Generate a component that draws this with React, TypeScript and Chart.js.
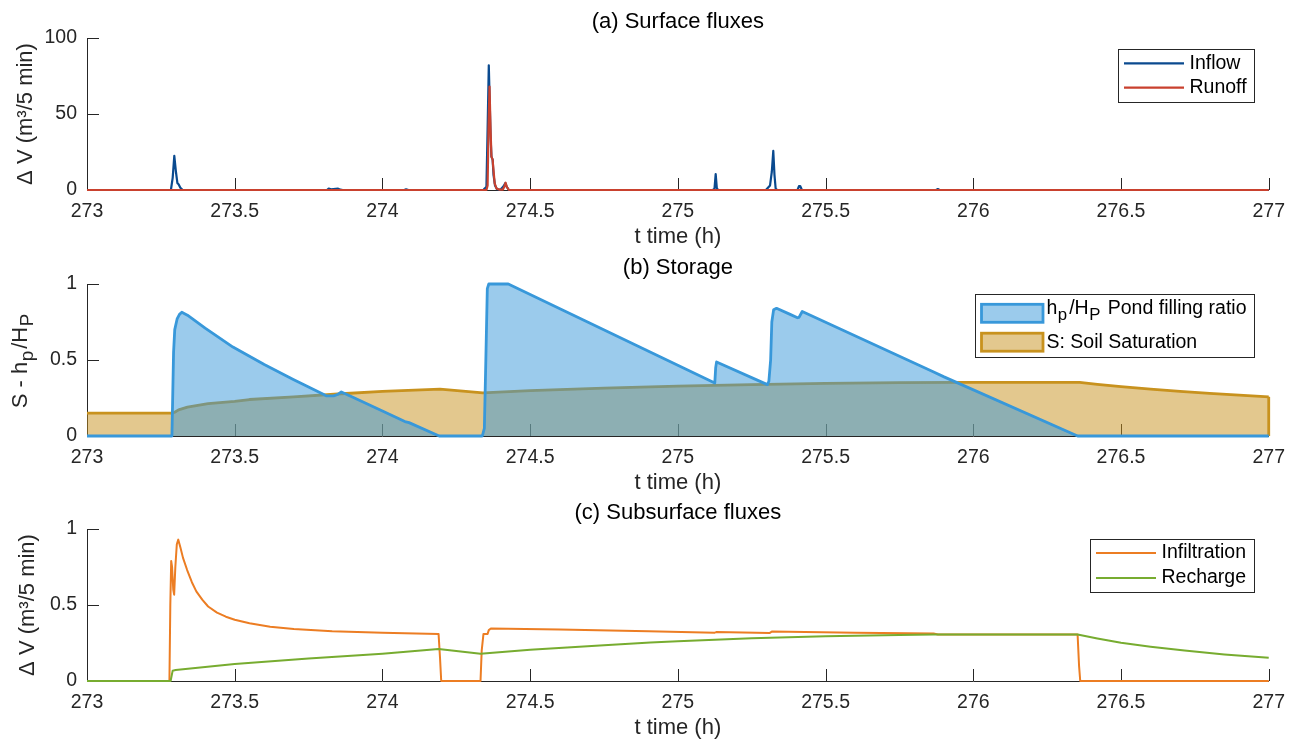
import React, { useEffect, useRef } from 'react';
import { Chart, registerables } from 'chart.js';

Chart.register(...registerables);

const FONT = '"Liberation Sans", Arial, Helvetica, sans-serif';
const AXIS = '#262626';
const TICK_SIZE = 19.5;
const LABEL_SIZE = 22;
const LEGEND_SIZE = 19.5;
const TICK_LEN = 12;
const SUB_SCALE = 0.86;
const SUB_GAP = 2.5;

Chart.defaults.font.family = FONT;
Chart.defaults.color = AXIS;

// ---------- shared x axis ----------
const xTicks = [273, 273.5, 274, 274.5, 275, 275.5, 276, 276.5, 277];
const xTickLabels = ['273', '273.5', '274', '274.5', '275', '275.5', '276', '276.5', '277'];
const xAxisLabel = 't time (h)';

// ---------- panel (a) ----------
const titleA = '(a) Surface fluxes';
const yTicksA = [0, 50, 100];
const yTickLabelsA = ['0', '50', '100'];
const yLabelA = 'Δ V (m³/5 min)';
const namesA = ['Inflow', 'Runoff'];
const inflowT = [273, 273.284, 273.29, 273.2955, 273.301, 273.306, 273.31, 273.316, 273.324, 273.812, 273.818, 273.826, 273.834, 273.85, 273.858, 273.866, 274.074, 274.08, 274.088, 274.342, 274.346, 274.352, 274.356, 274.36, 274.3635, 274.366, 274.369, 274.373, 274.376, 274.381, 274.388, 274.4, 274.41, 274.416, 274.421, 274.428, 275.118, 275.124, 275.128, 275.132, 275.137, 275.298, 275.305, 275.312, 275.318, 275.323, 275.327, 275.331, 275.336, 275.405, 275.41, 275.414, 275.42, 275.874, 275.88, 275.886, 277];
const inflowV = [0, 0, 8, 22.4, 12, 4.5, 3.8, 1.5, 0, 0, 0.9, 0.4, 0.6, 0.9, 0.2, 0, 0, 0.5, 0, 0, 1, 2, 40, 82, 55, 35, 22, 20, 10, 3, 0.5, 0.3, 2.5, 4.5, 2, 0, 0, 1, 10.5, 1, 0, 0, 1.5, 3, 12, 25.7, 10, 1, 0, 0, 2.5, 2.6, 0, 0, 0.6, 0, 0];
const runoffT = [273, 274.352, 274.356, 274.359, 274.3625, 274.366, 274.369, 274.373, 274.375, 274.38, 274.386, 274.395, 274.408, 274.413, 274.417, 274.421, 274.428, 277];
const runoffV = [0, 0, 3, 40, 68, 40, 22, 20, 15, 4.4, 1, 0.3, 0.3, 2.5, 4.8, 2, 0, 0];

// ---------- panel (b) ----------
const titleB = '(b) Storage';
const yTicksB = [0, 0.5, 1];
const yTickLabelsB = ['0', '0.5', '1'];
type Seg = { t: string; sub?: boolean };
const yLabelB: Seg[] = [{ t: 'S - h' }, { t: 'p', sub: true }, { t: '/H' }, { t: 'P', sub: true }];
const namesB: Seg[][] = [
  [{ t: 'h' }, { t: 'p', sub: true }, { t: '/H' }, { t: 'P', sub: true }, { t: ' Pond filling ratio' }],
  [{ t: 'S: Soil Saturation' }],
];
const pondT = [273, 273.2875, 273.29, 273.293, 273.297, 273.305, 273.313, 273.321, 273.34, 273.4, 273.494, 273.6, 273.7, 273.8, 273.81, 273.835, 273.85, 273.861, 273.9, 274.0, 274.076, 274.09, 274.192, 274.338, 274.345, 274.35, 274.355, 274.36, 274.426, 275.125, 275.128, 275.131, 275.303, 275.308, 275.314, 275.318, 275.324, 275.334, 275.38, 275.405, 275.41, 275.421, 275.866, 275.901, 276.353, 277];
const pondV = [0, 0, 0.25, 0.55, 0.7, 0.77, 0.8, 0.814, 0.795, 0.71, 0.585, 0.47, 0.37, 0.275, 0.264, 0.264, 0.275, 0.29, 0.255, 0.165, 0.095, 0.088, 0, 0, 0.05, 0.5, 0.97, 1, 1, 0.349, 0.45, 0.487, 0.338, 0.36, 0.5, 0.75, 0.83, 0.84, 0.8, 0.778, 0.78, 0.819, 0.421, 0.389, 0, 0];
const soilT = [273, 273.2875, 273.297, 273.31, 273.34, 273.41, 273.5, 273.55, 273.7, 273.861, 274.0, 274.195, 274.34, 274.5, 274.75, 275, 275.25, 275.5, 275.75, 275.95, 276.36, 276.42, 276.5, 276.6, 276.7, 276.8, 276.9, 277];
const soilV = [0.15, 0.15, 0.156, 0.172, 0.19, 0.213, 0.228, 0.24, 0.258, 0.278, 0.293, 0.308, 0.284, 0.298, 0.315, 0.328, 0.338, 0.346, 0.351, 0.353, 0.353, 0.34, 0.325, 0.308, 0.294, 0.281, 0.269, 0.258];

// ---------- panel (c) ----------
const titleC = '(c) Subsurface fluxes';
const yTicksC = [0, 0.5, 1];
const yTickLabelsC = ['0', '0.5', '1'];
const yLabelC = 'Δ V (m³/5 min)';
const namesC = ['Infiltration', 'Recharge'];
const infilT = [273, 273.279, 273.282, 273.285, 273.288, 273.292, 273.295, 273.299, 273.304, 273.309, 273.316, 273.325, 273.339, 273.355, 273.37, 273.39, 273.41, 273.44, 273.47, 273.5, 273.55, 273.62, 273.7, 273.83, 274.0, 274.19, 274.195, 274.199, 274.332, 274.336, 274.342, 274.356, 274.36, 274.367, 274.6, 274.9, 275.125, 275.13, 275.31, 275.318, 275.6, 275.866, 275.88, 276.353, 276.358, 276.362, 277];
const infilV = [0, 0, 0.5, 0.79, 0.75, 0.6, 0.568, 0.75, 0.9, 0.93, 0.88, 0.81, 0.73, 0.65, 0.59, 0.535, 0.49, 0.45, 0.423, 0.403, 0.38, 0.357, 0.342, 0.328, 0.318, 0.31, 0.15, 0, 0, 0.2, 0.31, 0.31, 0.335, 0.345, 0.338, 0.327, 0.318, 0.322, 0.315, 0.325, 0.318, 0.312, 0.306, 0.306, 0.1, 0, 0];
const rechT = [273, 273.283, 273.29, 273.3, 273.5, 273.75, 274.0, 274.19, 274.332, 274.5, 274.75, 274.907, 275.0, 275.25, 275.5, 275.75, 275.866, 276.353, 276.42, 276.5, 276.6, 276.715, 276.85, 277];
const rechV = [0, 0, 0.068, 0.072, 0.112, 0.148, 0.18, 0.21, 0.18, 0.205, 0.235, 0.253, 0.262, 0.282, 0.295, 0.303, 0.306, 0.306, 0.28, 0.252, 0.226, 0.2, 0.175, 0.153];

// ---------- colours ----------
const C_INFLOW = '#0a4a8f';
const C_RUNOFF = '#c9412e';
const C_POND = 'rgb(56,152,218)';
const C_POND_FILL = 'rgba(56,152,218,0.5)';
const C_SOIL = 'rgb(200,146,30)';
const C_SOIL_FILL = 'rgba(200,146,30,0.5)';
const C_INFIL = '#ec7d23';
const C_RECH = '#77ac30';

const pts = (t: number[], v: number[]) => t.map((x, i) => ({ x, y: v[i] }));

function segWidth(ctx: CanvasRenderingContext2D, s: Seg, size: number) {
  ctx.font = `${s.sub ? size * SUB_SCALE : size}px ${FONT}`;
  return ctx.measureText(s.t).width + (s.sub ? SUB_GAP : 0);
}

function richWidth(ctx: CanvasRenderingContext2D, segs: Seg[], size: number) {
  let w = 0;
  for (const s of segs) w += segWidth(ctx, s, size);
  return w;
}

function drawRich(ctx: CanvasRenderingContext2D, segs: Seg[], x: number, y: number, size: number, color: string, align: 'left' | 'center') {
  const total = richWidth(ctx, segs, size);
  let cx = align === 'center' ? x - total / 2 : x;
  ctx.fillStyle = color;
  ctx.textBaseline = 'middle';
  ctx.textAlign = 'left';
  for (const s of segs) {
    const w = segWidth(ctx, s, size);
    ctx.font = `${s.sub ? size * SUB_SCALE : size}px ${FONT}`;
    ctx.fillText(s.t, cx + (s.sub ? 0.5 : 0), y + (s.sub ? size * 0.33 : 0));
    cx += w;
  }
}

function inTicks(xs: number[], ys: number[]) {
  return {
    id: 'inTicks',
    beforeDatasetsDraw(chart: any) {
      const { ctx, chartArea, scales } = chart;
      ctx.save();
      ctx.strokeStyle = AXIS;
      ctx.lineWidth = 1;
      ctx.beginPath();
      for (const v of xs) {
        const px = Math.round(scales.x.getPixelForValue(v)) + 0.5;
        ctx.moveTo(px, chartArea.bottom);
        ctx.lineTo(px, chartArea.bottom - TICK_LEN);
      }
      for (const v of ys) {
        const py = Math.round(scales.y.getPixelForValue(v)) + 0.5;
        ctx.moveTo(chartArea.left, py);
        ctx.lineTo(chartArea.left + TICK_LEN, py);
      }
      ctx.stroke();
      ctx.restore();
    },
  };
}

type LegendItem = { segs: Seg[]; color: string; fill?: string; kind: 'line' | 'patch'; width: number };

function boxLegend(items: LegendItem[], g: { top: number; inset: number; height: number; rows: number[]; textDy: number[] }) {
  return {
    id: 'boxLegend',
    afterDraw(chart: any) {
      const { ctx, chartArea } = chart;
      ctx.save();
      const maxW = Math.max(...items.map((it) => richWidth(ctx, it.segs, LEGEND_SIZE)));
      const w = Math.round(71.5 + maxW + 7.5);
      const right = Math.round(chartArea.right - g.inset);
      const left = right - w;
      const top = Math.round(chartArea.top + g.top);
      ctx.fillStyle = '#fff';
      ctx.fillRect(left, top, w, g.height);
      ctx.strokeStyle = AXIS;
      ctx.lineWidth = 1;
      ctx.strokeRect(left + 0.5, top + 0.5, w, g.height);
      items.forEach((it, i) => {
        const cy = top + g.rows[i];
        if (it.kind === 'line') {
          ctx.strokeStyle = it.color;
          ctx.lineWidth = it.width;
          ctx.beginPath();
          ctx.moveTo(left + 6, cy);
          ctx.lineTo(left + 66, cy);
          ctx.stroke();
        } else {
          ctx.fillStyle = it.fill as string;
          ctx.fillRect(left + 6.5, cy - 9, 61.5, 18);
          ctx.strokeStyle = it.color;
          ctx.lineWidth = it.width;
          ctx.strokeRect(left + 6.5, cy - 9, 61.5, 18);
        }
        drawRich(ctx, it.segs, left + 71.5, cy + g.textDy[i], LEGEND_SIZE, '#000', 'left');
      });
      ctx.restore();
    },
  };
}

function richYLabel(segs: Seg[], centerX: number) {
  return {
    id: 'richYLabel',
    afterDraw(chart: any) {
      const { ctx, chartArea } = chart;
      ctx.save();
      ctx.translate(centerX, (chartArea.top + chartArea.bottom) / 2);
      ctx.rotate(-Math.PI / 2);
      drawRich(ctx, segs, 0, 0, LABEL_SIZE, AXIS, 'center');
      ctx.restore();
    },
  };
}

const areaEdge = {
  id: 'areaEdge',
  afterDatasetDraw(chart: any, args: any) {
    if (args.index !== 1) return;
    const pts0 = args.meta.data;
    const last = pts0[pts0.length - 1];
    const { ctx } = chart;
    ctx.save();
    ctx.strokeStyle = C_SOIL;
    ctx.lineWidth = 2.8;
    ctx.beginPath();
    ctx.moveTo(last.x, last.y);
    ctx.lineTo(last.x, chart.scales.y.getPixelForValue(0));
    ctx.stroke();
    ctx.restore();
  },
};

function baseOptions(p: { title: string; yTicks: number[]; yTickLabels: string[]; yMax: number; yTitle: string; yTitlePad: number }) {
  return {
    responsive: false,
    animation: false as const,
    events: [] as any[],
    layout: { padding: { left: 0, right: 26, top: 0, bottom: 0 } },
    plugins: {
      legend: { display: false },
      tooltip: { enabled: false },
      title: {
        display: true,
        text: p.title,
        fullSize: false,
        color: '#000',
        font: { family: FONT, size: LABEL_SIZE, weight: 'normal' as const, lineHeight: 1.2 },
        padding: { top: 8.8, bottom: 2.8 },
      },
    },
    scales: {
      x: {
        type: 'linear' as const,
        min: 273,
        max: 277,
        afterBuildTicks: (s: any) => {
          s.ticks = xTicks.map((v) => ({ value: v }));
        },
        afterFit: (s: any) => {
          s.height = 60;
        },
        grid: { display: false, drawTicks: false },
        border: { display: true, color: AXIS, width: 1 },
        ticks: {
          color: AXIS,
          font: { family: FONT, size: TICK_SIZE, lineHeight: 1.2 },
          padding: 10,
          maxRotation: 0,
          autoSkip: false,
          callback: (_v: any, i: number) => xTickLabels[i],
        },
        title: {
          display: true,
          text: xAxisLabel,
          color: AXIS,
          font: { family: FONT, size: LABEL_SIZE, lineHeight: 1.2 },
          padding: { top: 0, bottom: 0 },
        },
      },
      y: {
        type: 'linear' as const,
        min: 0,
        max: p.yMax,
        afterBuildTicks: (s: any) => {
          s.ticks = p.yTicks.map((v) => ({ value: v }));
        },
        afterFit: (s: any) => {
          s.width = 87;
        },
        grid: { display: false, drawTicks: false },
        border: { display: true, color: AXIS, width: 1 },
        ticks: {
          color: AXIS,
          font: { family: FONT, size: TICK_SIZE, lineHeight: 1.2 },
          padding: 10,
          callback: (_v: any, i: number) => p.yTickLabels[i],
        },
        title: {
          display: p.yTitle !== '',
          text: p.yTitle,
          color: AXIS,
          font: { family: FONT, size: LABEL_SIZE, lineHeight: 1.2 },
          padding: { top: p.yTitlePad, bottom: 0 },
        },
      },
    },
  };
}

const lineDs = (label: string, t: number[], v: number[], color: string, width: number, order: number) => ({
  label,
  data: pts(t, v),
  borderColor: color,
  backgroundColor: color,
  borderWidth: width,
  pointRadius: 0,
  tension: 0,
  order,
  clip: 6,
  borderJoinStyle: 'round' as const,
  fill: false,
});

function makeA(canvas: HTMLCanvasElement) {
  return new Chart(canvas, {
    type: 'line',
    data: {
      datasets: [
        lineDs(namesA[0], inflowT, inflowV, C_INFLOW, 2.2, 1),
        lineDs(namesA[1], runoffT, runoffV, C_RUNOFF, 2.2, 0),
      ],
    },
    options: baseOptions({ title: titleA, yTicks: yTicksA, yTickLabels: yTickLabelsA, yMax: 100, yTitle: yLabelA, yTitlePad: 12.8 }) as any,
    plugins: [
      inTicks(xTicks, yTicksA),
      boxLegend(
        [
          { segs: [{ t: namesA[0] }], color: C_INFLOW, kind: 'line', width: 2.2 },
          { segs: [{ t: namesA[1] }], color: C_RUNOFF, kind: 'line', width: 2.2 },
        ],
        { top: 11, inset: 15, height: 53, rows: [14.3, 38.7], textDy: [0, 0] }
      ),
    ],
  });
}

function makeB(canvas: HTMLCanvasElement) {
  return new Chart(canvas, {
    type: 'line',
    data: {
      datasets: [
        {
          ...lineDs('hp/HP Pond filling ratio', pondT, pondV, C_POND, 2.8, 0),
          backgroundColor: C_POND_FILL,
          fill: 'origin',
        },
        {
          ...lineDs('S: Soil Saturation', soilT, soilV, C_SOIL, 2.8, 1),
          backgroundColor: C_SOIL_FILL,
          fill: 'origin',
        },
      ],
    },
    options: baseOptions({ title: titleB, yTicks: yTicksB, yTickLabels: yTickLabelsB, yMax: 1, yTitle: '', yTitlePad: 0 }) as any,
    plugins: [
      inTicks(xTicks, yTicksB),
      areaEdge,
      richYLabel(yLabelB, 21),
      boxLegend(
        [
          { segs: namesB[0], color: C_POND, fill: C_POND_FILL, kind: 'patch', width: 2.8 },
          { segs: namesB[1], color: C_SOIL, fill: C_SOIL_FILL, kind: 'patch', width: 2.8 },
        ],
        { top: 10, inset: 15, height: 63, rows: [19.3, 48.2], textDy: [-4.3, 0] }
      ),
    ],
  });
}

function makeC(canvas: HTMLCanvasElement) {
  return new Chart(canvas, {
    type: 'line',
    data: {
      datasets: [
        lineDs(namesC[0], infilT, infilV, C_INFIL, 2, 1),
        lineDs(namesC[1], rechT, rechV, C_RECH, 2, 0),
      ],
    },
    options: baseOptions({ title: titleC, yTicks: yTicksC, yTickLabels: yTickLabelsC, yMax: 1, yTitle: yLabelC, yTitlePad: 15 }) as any,
    plugins: [
      inTicks(xTicks, yTicksC),
      boxLegend(
        [
          { segs: [{ t: namesC[0] }], color: C_INFIL, kind: 'line', width: 2 },
          { segs: [{ t: namesC[1] }], color: C_RECH, kind: 'line', width: 2 },
        ],
        { top: 10, inset: 15, height: 53, rows: [14, 39], textDy: [0, 0] }
      ),
    ],
  });
}

function Panel({ top, height, make }: { top: number; height: number; make: (c: HTMLCanvasElement) => Chart }) {
  const ref = useRef<HTMLCanvasElement>(null);
  useEffect(() => {
    const chart = make(ref.current as HTMLCanvasElement);
    return () => chart.destroy();
  }, [make]);
  return (
    <canvas
      ref={ref}
      width={1295}
      height={height}
      style={{ position: 'absolute', left: 0, top, width: 1295, height, display: 'block' }}
    />
  );
}

export default function App() {
  return (
    <div style={{ position: 'absolute', left: 0, top: 0, width: 1295, height: 740, overflow: 'hidden', background: '#fff' }}>
      <Panel top={0} height={250} make={makeA} />
      <Panel top={246} height={250} make={makeB} />
      <Panel top={491} height={250} make={makeC} />
    </div>
  );
}
